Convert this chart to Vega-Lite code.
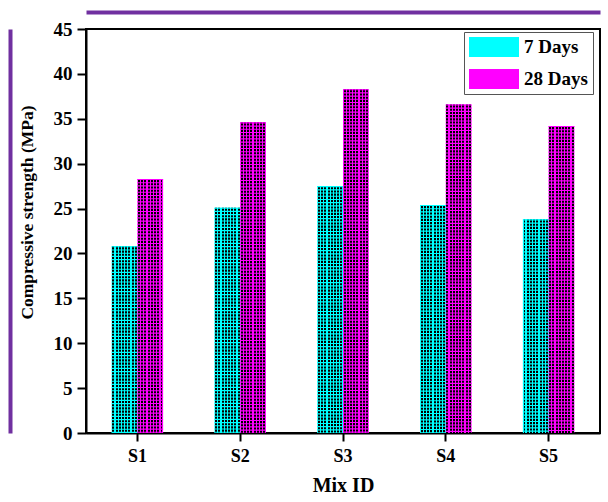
{
  "$schema": "https://vega.github.io/schema/vega-lite/v6.json",
  "width": 514,
  "height": 404,
  "autosize": "none",
  "padding": {"left": 86, "top": 29, "right": 8, "bottom": 69},
  "background": "white",
  "config": {"view": {"stroke": "black", "strokeWidth": 2}, "font": "Liberation Serif"},
  "data": {"values": [
    {"Mix": "S1", "Age": "7 Days", "Strength": 20.8},
    {"Mix": "S1", "Age": "28 Days", "Strength": 28.3},
    {"Mix": "S2", "Age": "7 Days", "Strength": 25.1},
    {"Mix": "S2", "Age": "28 Days", "Strength": 34.6},
    {"Mix": "S3", "Age": "7 Days", "Strength": 27.5},
    {"Mix": "S3", "Age": "28 Days", "Strength": 38.3},
    {"Mix": "S4", "Age": "7 Days", "Strength": 25.4},
    {"Mix": "S4", "Age": "28 Days", "Strength": 36.6},
    {"Mix": "S5", "Age": "7 Days", "Strength": 23.8},
    {"Mix": "S5", "Age": "28 Days", "Strength": 34.2}
  ]},
  "layer": [
    {
      "mark": {"type": "bar"},
      "encoding": {
        "x": {"field": "Mix", "type": "nominal",
          "scale": {"paddingInner": 0.5, "paddingOuter": 0.25},
          "axis": {"orient": "bottom", "title": "Mix ID", "grid": false, "labelAngle": 0,
            "domainColor": "black", "domainWidth": 2, "tickColor": "black", "tickWidth": 2, "tickSize": 8,
            "labelFont": "Liberation Serif", "labelFontSize": 18, "labelFontWeight": "bold", "labelColor": "black", "labelPadding": 6,
            "titleFont": "Liberation Serif", "titleFontSize": 20, "titleFontWeight": "bold", "titleColor": "black", "titlePadding": 10}},
        "xOffset": {"field": "Age", "type": "nominal", "scale": {"domain": ["7 Days", "28 Days"], "paddingInner": 0, "paddingOuter": 0}},
        "y": {"field": "Strength", "type": "quantitative",
          "scale": {"domain": [0, 45], "nice": false},
          "axis": {"orient": "left", "title": "Compressive strength (MPa)", "grid": false,
            "values": [0, 5, 10, 15, 20, 25, 30, 35, 40, 45],
            "domainColor": "black", "domainWidth": 2, "tickColor": "black", "tickWidth": 2, "tickSize": 9,
            "labelFont": "Liberation Serif", "labelFontSize": 19, "labelFontWeight": "bold", "labelColor": "black", "labelPadding": 5,
            "titleFont": "Liberation Serif", "titleFontSize": 17.5, "titleFontWeight": "bold", "titleColor": "black", "titlePadding": 17,
            "titleY": 183}},
        "color": {"field": "Age", "type": "nominal",
          "scale": {"domain": ["7 Days", "28 Days"], "range": ["#00ffff", "#ff00ff"]},
          "legend": {"orient": "none", "legendX": 378, "legendY": 3, "direction": "vertical", "title": null,
            "strokeColor": "#555555", "fillColor": "white", "padding": 5,
            "symbolType": "M-1,-1H4V1H-1Z", "symbolSize": 400, "symbolStrokeWidth": 0, "symbolOpacity": 1,
            "labelFont": "Liberation Serif", "labelFontSize": 19, "labelFontWeight": "bold", "labelColor": "black",
            "labelOffset": 35, "rowPadding": 12}}
      }
    },
    {
      "mark": {"type": "bar", "fill": {"gradient": "linear", "x1": 0, "y1": 0, "x2": 1, "y2": 0, "stops": [
        {"offset": 0, "color": "rgba(0,0,0,0)"}, {"offset": 0.024, "color": "rgba(0,0,0,0)"},
        {"offset": 0.024, "color": "black"}, {"offset": 0.101, "color": "black"},
        {"offset": 0.101, "color": "rgba(0,0,0,0)"}, {"offset": 0.149, "color": "rgba(0,0,0,0)"},
        {"offset": 0.149, "color": "black"}, {"offset": 0.226, "color": "black"},
        {"offset": 0.226, "color": "rgba(0,0,0,0)"}, {"offset": 0.274, "color": "rgba(0,0,0,0)"},
        {"offset": 0.274, "color": "black"}, {"offset": 0.351, "color": "black"},
        {"offset": 0.351, "color": "rgba(0,0,0,0)"}, {"offset": 0.399, "color": "rgba(0,0,0,0)"},
        {"offset": 0.399, "color": "black"}, {"offset": 0.476, "color": "black"},
        {"offset": 0.476, "color": "rgba(0,0,0,0)"}, {"offset": 0.524, "color": "rgba(0,0,0,0)"},
        {"offset": 0.524, "color": "black"}, {"offset": 0.601, "color": "black"},
        {"offset": 0.601, "color": "rgba(0,0,0,0)"}, {"offset": 0.649, "color": "rgba(0,0,0,0)"},
        {"offset": 0.649, "color": "black"}, {"offset": 0.726, "color": "black"},
        {"offset": 0.726, "color": "rgba(0,0,0,0)"}, {"offset": 0.774, "color": "rgba(0,0,0,0)"},
        {"offset": 0.774, "color": "black"}, {"offset": 0.851, "color": "black"},
        {"offset": 0.851, "color": "rgba(0,0,0,0)"}, {"offset": 0.899, "color": "rgba(0,0,0,0)"},
        {"offset": 0.899, "color": "black"}, {"offset": 0.976, "color": "black"},
        {"offset": 0.976, "color": "rgba(0,0,0,0)"}, {"offset": 1, "color": "rgba(0,0,0,0)"}
      ]}},
      "encoding": {
        "x": {"field": "Mix", "type": "nominal", "axis": null},
        "xOffset": {"field": "Age", "type": "nominal"},
        "y": {"field": "Strength", "type": "quantitative", "axis": null}
      }
    },
    {
      "mark": {"type": "rule", "strokeWidth": 25.7, "strokeDash": [1.1, 2.1], "strokeCap": "butt"},
      "encoding": {
        "x": {"field": "Mix", "type": "nominal",
          "axis": {"orient": "top", "offset": 17, "domainColor": "#7030a0", "domainWidth": 4, "ticks": false, "labels": false, "title": null, "grid": false}},
        "xOffset": {"field": "Age", "type": "nominal"},
        "y": {"field": "Strength", "type": "quantitative",
          "axis": {"orient": "left", "offset": 76, "domainColor": "#7030a0", "domainWidth": 4, "ticks": false, "labels": false, "title": null, "grid": false}},
        "y2": {"datum": 0},
        "stroke": {"field": "Age", "type": "nominal",
          "scale": {"domain": ["7 Days", "28 Days"], "range": ["#00ffff", "#ff00ff"]}, "legend": null}
      }
    }
  ],
  "resolve": {"axis": {"x": "independent", "y": "independent"}}
}
